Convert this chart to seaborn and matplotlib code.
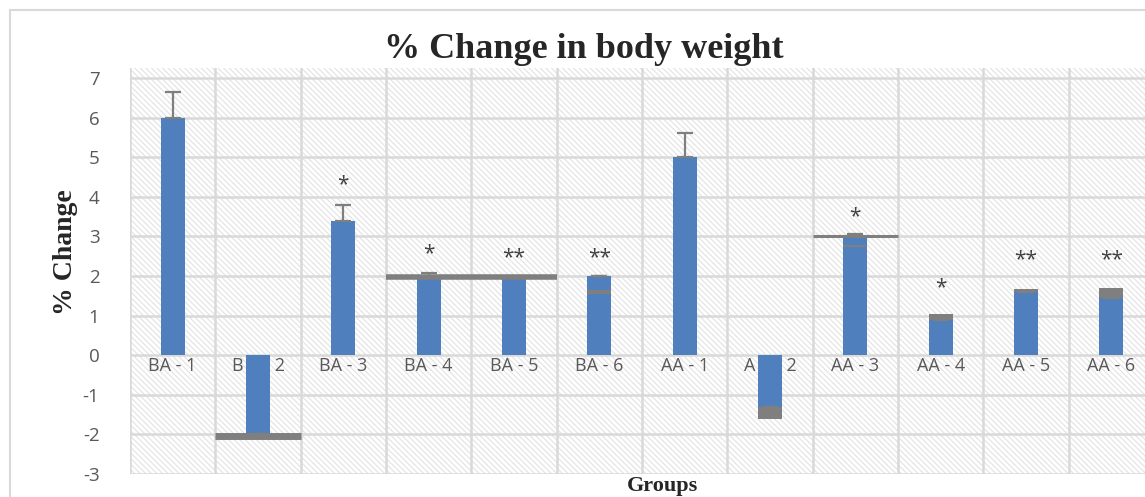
import numpy as np
import matplotlib.pyplot as plt
from matplotlib.patches import Rectangle
import seaborn as sns
import pandas as pd

# データ
groups = ["BA - 1", "B A - 2", "BA - 3", "BA - 4", "BA - 5", "BA - 6",
          "AA - 1", "A A - 2", "AA - 3", "AA - 4", "AA - 5", "AA - 6"]
change = [6.0, -2.0, 3.38, 1.95, 1.95, 2.0, 5.0, -1.3, 3.0, 0.9, 1.6, 1.45]
err_up = [0.65, 0.0, 0.42, 0.12, 0.06, 0.0, 0.62, 0.0, 0.06, 0.0, 0.0, 0.0]
# 棒の上に重なっている灰色の部分
grey_low = [np.nan, np.nan, np.nan, np.nan, np.nan, 1.55, np.nan, -1.6, 2.72, 0.9, 1.6, 1.45]
grey_high = [np.nan, np.nan, np.nan, np.nan, np.nan, 1.65, np.nan, -1.3, 2.78, 1.05, 1.67, 1.7]
# 区間全体にまたがる灰色の横線
span_y = [-2.03, 1.97, 3.0]
span_from = [1, 3, 8]
span_to = [1, 4, 8]
stars = ["", "", "*", "*", "**", "**", "", "", "*", "*", "**", "**"]
star_y = [np.nan, np.nan, 4.3, 2.55, 2.45, 2.45, np.nan, np.nan, 3.5, 1.7, 2.4, 2.4]
y_ticks = list(range(-3, 8))

BLUE = "#4f7fbd"
GREY = "#7f7f7f"
GRID = "#d9d9d9"
TXT = "#595959"

sns.set_style("white")
plt.rcParams["font.family"] = ["Open Sans", "DejaVu Sans"]
plt.rcParams["hatch.linewidth"] = 0.8

fig = plt.figure(figsize=(11.45, 4.97), dpi=100)
ax = fig.add_axes([130 / 1145, 1 - 474 / 497, 1024 / 1145, 406 / 497])

# 背景の斜線
ax.add_patch(Rectangle((0, 0), 1, 1, transform=ax.transAxes, facecolor="white",
                       edgecolor="#e2e2e2", hatch="\\\\\\\\\\\\", lw=0, zorder=0))

df = pd.DataFrame({"group": groups, "change": change})
sns.barplot(data=df, x="group", y="change", color=BLUE, saturation=1, width=0.28,
            ax=ax, zorder=3, errorbar=None, linewidth=0)

x = np.arange(len(groups))
lo = np.array(grey_low)
hi = np.array(grey_high)
ax.bar(x, hi - lo, bottom=lo, width=0.28, color=GREY, zorder=4, linewidth=0)

ax.errorbar(x, change, yerr=[np.zeros(len(x)), err_up], fmt="none", ecolor=GREY,
            elinewidth=1.6, capsize=6, capthick=1.6, zorder=4)

for yv, a, b, lw in zip(span_y, span_from, span_to, [5, 4, 2.2]):
    ax.hlines(yv, a - 0.5, b + 0.5, color=GREY, lw=lw, zorder=5)

for i, s in enumerate(stars):
    if s:
        ax.text(i, star_y[i], s, ha="center", va="center", fontsize=15, color="#404040", zorder=6)

# カテゴリラベル（0の直下、棒の下に描く）
for i, g in enumerate(groups):
    ax.text(i, -0.28, g, ha="center", va="center", fontsize=13, color=TXT, zorder=2)

ax.set_xlim(-0.5, 11.5)
ax.set_ylim(-3, 7.25)
ax.set_yticks(y_ticks)
ax.set_yticklabels([str(v) for v in y_ticks], fontsize=13.5, color=TXT)
ax.set_xticks(np.arange(-0.5, 12, 1))
ax.tick_params(axis="x", length=0, labelbottom=False)
ax.tick_params(axis="y", length=0, pad=22)
ax.grid(True, color=GRID, lw=1.8, zorder=1)
ax.set_axisbelow(True)
ax.set_xlabel("")
ax.set_ylabel("")
for sp in ax.spines.values():
    sp.set_visible(False)

# 枠線
fig.patches.append(Rectangle((10 / 1145, -0.1), 1.2, 1.08, transform=fig.transFigure,
                             fill=False, edgecolor=GRID, lw=1.5))

fig.text(584 / 1145, 1 - 49 / 497, "% Change in body weight", ha="center", va="center",
         fontsize=26, fontweight="bold", family="Liberation Serif")
fig.text(66 / 1145, 1 - 252 / 497, "% Change", ha="center", va="center", rotation=90,
         fontsize=20, fontweight="bold", family="Liberation Serif")
fig.text(662 / 1145, 0.003, "Groups", ha="center", va="bottom",
         fontsize=16, fontweight="bold", family="Liberation Serif")

fig.savefig("out.png", dpi=100)
